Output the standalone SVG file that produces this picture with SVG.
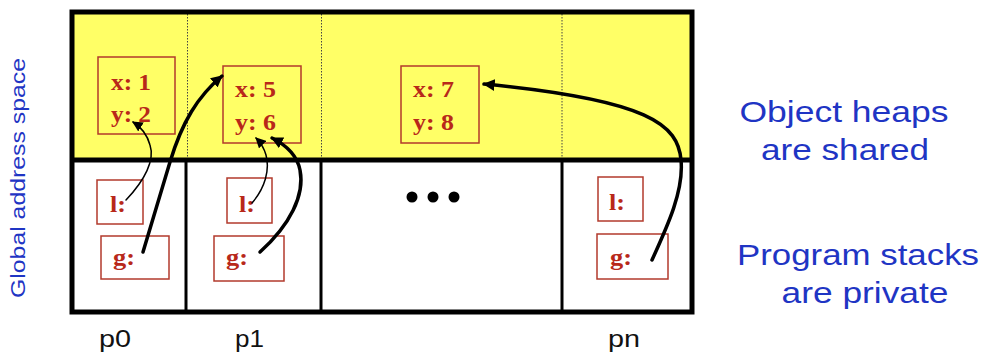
<svg xmlns="http://www.w3.org/2000/svg" width="987" height="356" viewBox="0 0 987 356">
<style>
.obj{fill:none;stroke:#b23a2c;stroke-width:1.5}
.rt{font-family:"Liberation Serif","Times New Roman",serif;font-weight:bold;font-size:24px;fill:#b8281a}
.bt{font-family:"Liberation Sans",Arial,sans-serif;fill:#1f35c4}
.big{font-size:30px;text-anchor:middle}
.pl{font-family:"Liberation Sans",Arial,sans-serif;font-size:24px;fill:#111}
.thick{fill:none;stroke:#000;stroke-width:3.5;stroke-linecap:round}
.thin{fill:none;stroke:#000;stroke-width:1.5;stroke-linecap:round}
.dot{fill:none;stroke:#444;stroke-width:1;stroke-dasharray:1.5 1.5}
.sol{stroke:#000;stroke-width:3}
</style>
<defs>
<marker id="ah" viewBox="0 0 10 10" refX="9" refY="5" markerWidth="3.4" markerHeight="3.4" orient="auto" markerUnits="strokeWidth"><path d="M0,0 L10,5 L0,10 z" fill="#000"/></marker>
<marker id="ahs" viewBox="0 0 10 10" refX="9" refY="5" markerWidth="7" markerHeight="7" orient="auto" markerUnits="strokeWidth"><path d="M0,0 L10,5 L0,10 z" fill="#000"/></marker>
</defs>
<rect width="987" height="356" fill="#fff"/>
<g id="frame">
<rect x="72" y="12" width="620" height="148" fill="#ffff66"/>
<line class="dot" x1="187.5" y1="14" x2="187.5" y2="158"/>
<line class="dot" x1="321.5" y1="14" x2="321.5" y2="158"/>
<line class="dot" x1="562" y1="14" x2="562" y2="158"/>
<line class="sol" x1="186" y1="160" x2="186" y2="312"/>
<line class="sol" x1="321" y1="160" x2="321" y2="312"/>
<line class="sol" x1="562" y1="160" x2="562" y2="312"/>
<line x1="72" y1="160" x2="692" y2="160" stroke="#000" stroke-width="5"/>
<rect x="72" y="12" width="620" height="300" fill="none" stroke="#000" stroke-width="5"/>
</g>
<g id="obj1"><rect class="obj" x="98" y="57" width="77" height="77"/><text class="rt" x="111" y="90" textLength="40" lengthAdjust="spacingAndGlyphs">x: 1</text><text class="rt" x="111" y="122" textLength="40" lengthAdjust="spacingAndGlyphs">y: 2</text></g>
<g id="obj2"><rect class="obj" x="223" y="66" width="78" height="77"/><text class="rt" x="235" y="97" textLength="41" lengthAdjust="spacingAndGlyphs">x: 5</text><text class="rt" x="235" y="130" textLength="41" lengthAdjust="spacingAndGlyphs">y: 6</text></g>
<g id="obj3"><rect class="obj" x="401" y="66" width="78" height="77"/><text class="rt" x="413" y="97" textLength="41" lengthAdjust="spacingAndGlyphs">x: 7</text><text class="rt" x="413" y="130" textLength="41" lengthAdjust="spacingAndGlyphs">y: 8</text></g>
<g id="p0l"><rect class="obj" x="97" y="180" width="46" height="44"/><text class="rt" x="110" y="212" textLength="16" lengthAdjust="spacingAndGlyphs">l:</text></g>
<g id="p0g"><rect class="obj" x="101" y="236" width="68" height="43"/><text class="rt" x="113" y="265" textLength="22" lengthAdjust="spacingAndGlyphs">g:</text></g>
<g id="p1l"><rect class="obj" x="227" y="178" width="45" height="45"/><text class="rt" x="239" y="212" textLength="16" lengthAdjust="spacingAndGlyphs">l:</text></g>
<g id="p1g"><rect class="obj" x="214" y="236" width="70" height="45"/><text class="rt" x="226" y="265" textLength="22" lengthAdjust="spacingAndGlyphs">g:</text></g>
<g id="pnl"><rect class="obj" x="598" y="177" width="45" height="44"/><text class="rt" x="609" y="210" textLength="16" lengthAdjust="spacingAndGlyphs">l:</text></g>
<g id="png"><rect class="obj" x="597" y="234" width="71" height="45"/><text class="rt" x="610" y="265" textLength="22" lengthAdjust="spacingAndGlyphs">g:</text></g>
<g id="ellipsis"><circle cx="412" cy="197" r="5.5"/><circle cx="433" cy="197" r="5.5"/><circle cx="454" cy="197" r="5.5"/></g>
<g id="connectors">
<path class="thin" d="M126,200 C145,180 155,160 150,145 C147,134 141,127 133,122" marker-end="url(#ahs)"/>
<path class="thick" d="M143,252 L170,162 C182,122 198,96 222,76" marker-end="url(#ah)"/>
<path class="thin" d="M252,203 C265,188 270,170 266,155 C264,148 261,143 256,138" marker-end="url(#ahs)"/>
<path class="thick" d="M260,252 C290,225 305,195 300,170 C297,155 286,145 272,138" marker-end="url(#ah)"/>
<path class="thick" d="M652,260 C668,225 684,190 681,160 C678,125 650,100 484,84" marker-end="url(#ah)"/>
</g>
<g id="labels">
<text class="bt" font-size="20" transform="translate(25,178) rotate(-90)" text-anchor="middle" textLength="240" lengthAdjust="spacingAndGlyphs">Global address space</text>
<text class="bt big" x="844" y="122" textLength="209" lengthAdjust="spacingAndGlyphs">Object heaps</text>
<text class="bt big" x="845" y="160" textLength="168" lengthAdjust="spacingAndGlyphs">are shared</text>
<text class="bt big" x="858" y="265" textLength="242" lengthAdjust="spacingAndGlyphs">Program stacks</text>
<text class="bt big" x="865" y="303" textLength="167" lengthAdjust="spacingAndGlyphs">are private</text>
<text class="pl" x="99" y="347" textLength="32" lengthAdjust="spacingAndGlyphs">p0</text>
<text class="pl" x="235" y="347" textLength="29" lengthAdjust="spacingAndGlyphs">p1</text>
<text class="pl" x="608" y="347" textLength="32" lengthAdjust="spacingAndGlyphs">pn</text>
</g>
</svg>
